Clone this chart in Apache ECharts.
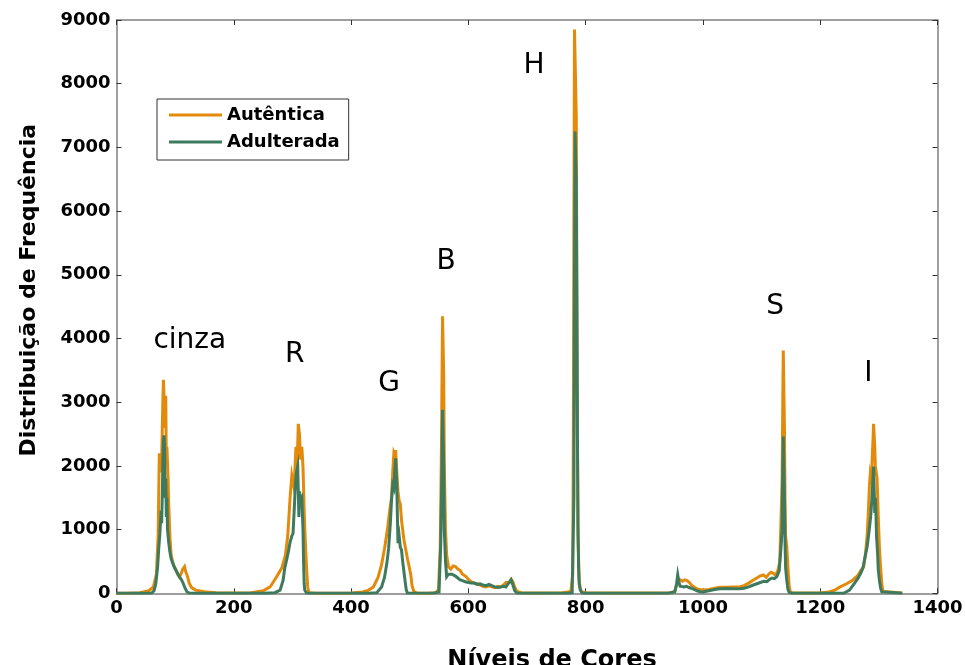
<!DOCTYPE html>
<html>
<head>
<meta charset="utf-8">
<script src="https://cdn.jsdelivr.net/npm/echarts@6/dist/echarts.min.js"></script>
<style>
  html, body { margin: 0; padding: 0; background: #ffffff; }
  #chart { width: 965px; height: 665px; }
</style>
</head>
<body>
<div id="chart"></div>
<script>
// Colour-level histograms (gray, R, G, B, H, S, I channels laid end to end)
const seriesNames = ['Autêntica', 'Adulterada'];

// Autêntica: colour level / frequency
const autX = [0, 20, 40, 55, 63, 68, 71, 73, 75, 77, 79, 80, 82, 83, 84, 85, 86, 88, 89, 91, 93, 95, 98, 101, 104, 107, 110, 113, 116, 118, 121, 124, 128, 135, 150, 170, 200,
  230, 250, 262, 273, 282, 288, 292, 296, 299, 302, 304, 306, 308, 310, 312, 314, 316, 318, 320, 322, 324, 326, 328, 340,
  380, 400, 420, 430, 438, 446, 452, 457, 462, 466, 469, 471, 473, 475, 476, 478, 480, 482, 484, 486, 488, 490, 493, 496, 499, 502, 504, 507, 512,
  530, 545, 549, 552, 554, 556, 557, 558, 559, 561, 563, 566, 570, 574, 578, 582, 586, 590, 595, 600, 605, 610, 615, 620, 625, 630, 635, 640, 645, 650, 655, 660, 664, 667, 670, 673, 676, 679, 682, 686, 690, 700,
  740, 760, 770, 775, 778, 779, 780, 781, 782, 783, 784, 785, 786, 787, 789, 791, 794, 800,
  830, 880, 920, 945, 952, 955, 958, 961, 965, 969, 973, 977, 981, 985, 990, 995, 1000, 1010, 1020, 1029, 1040, 1050, 1063, 1070, 1078, 1086, 1092, 1097, 1103, 1108, 1112, 1116, 1120, 1124, 1128, 1131,
  1133, 1135, 1136, 1137, 1138, 1139, 1140, 1141, 1143, 1145, 1147, 1149, 1153,
  1200, 1215, 1225, 1234, 1245, 1256, 1264, 1270, 1274, 1277, 1280, 1282, 1284, 1285, 1287, 1289, 1290, 1291, 1292, 1293, 1294, 1295, 1297, 1299, 1301, 1303, 1305, 1307, 1310, 1340];
const autY = [0, 0, 10, 40, 100, 300, 900, 2200, 1900, 2100, 3000, 3350, 3350, 2600, 3100, 2000, 2300, 1780, 1400, 900, 620, 520, 430, 380, 300, 260, 300, 380, 420, 340, 270, 160, 90, 50, 25, 10, 5,
  10, 40, 100, 260, 400, 600, 900, 1500, 1850, 1700, 1900, 2300, 2000, 2660, 2500, 2100, 2300, 1990, 1300, 800, 420, 100, 10, 0,
  0, 5, 20, 50, 100, 250, 450, 700, 1000, 1310, 1500, 1900, 2200, 2150, 2250, 1900, 1600, 1450, 1400, 1150, 1000, 850, 700, 550, 420, 280, 120, 30, 5,
  0, 10, 60, 700, 2200, 4350, 4350, 3400, 2000, 1000, 600, 420, 380, 430, 420, 380, 360, 300, 270, 220, 180, 160, 150, 130, 110, 100, 120, 100, 90, 110, 100, 130, 170, 190, 170, 220, 180, 100, 40, 20, 10, 5,
  5, 10, 20, 40, 300, 2500, 6000, 8850, 8850, 8850, 7500, 5000, 2500, 900, 200, 60, 20, 10,
  5, 5, 5, 10, 30, 120, 230, 200, 190, 210, 200, 170, 120, 100, 70, 60, 52, 60, 80, 94, 95, 100, 104, 120, 160, 209, 240, 270, 288, 250, 300, 330, 314, 280, 366, 500,
  1100, 1780, 2800, 3810, 3810, 2600, 1500, 900, 730, 400, 120, 20, 5,
  5, 20, 50, 100, 150, 210, 280, 370, 420, 600, 900, 1260, 1700, 1830, 1700, 2200, 2400, 2660, 2660, 2300, 2000, 1990, 1800, 1200, 700, 400, 150, 30, 10, 5];

// Adulterada: colour level / frequency
const adX = [0, 40, 60, 64, 67, 70, 72, 74, 76, 77, 78, 79, 80, 81, 82, 83, 84, 85, 86, 87, 89, 91, 93, 96, 99, 102, 105, 108, 111, 114, 117, 120, 124, 140,
  250, 270, 279, 284, 287, 290, 293, 296, 299, 301, 303, 305, 307, 309, 310, 311, 312, 314, 316, 318, 319, 320, 321, 324, 340,
  430, 444, 452, 457, 461, 464, 467, 469, 471, 473, 475, 476, 477, 478, 479, 480, 482, 484, 486, 488, 490, 492, 494, 496,
  540, 550, 553, 555, 556, 557, 558, 559, 561, 563, 566, 569, 572, 575, 578, 582, 586, 590, 595, 600, 605, 610, 615, 620, 625, 630, 635, 640, 645, 650, 655, 660, 664, 667, 670, 673, 676, 679, 683, 700,
  770, 777, 780, 781, 782, 783, 784, 785, 786, 787, 788, 789, 791, 794, 800,
  940, 952, 955, 957, 959, 961, 964, 968, 972, 976, 980, 985, 990, 995, 1000, 1010, 1020, 1029, 1040, 1050, 1063, 1070, 1078, 1086, 1092, 1098, 1104, 1109, 1114, 1118, 1122, 1126, 1130,
  1133, 1135, 1136, 1137, 1138, 1139, 1140, 1141, 1143, 1145, 1147, 1151,
  1240, 1250, 1258, 1264, 1269, 1273, 1276, 1280, 1283, 1286, 1288, 1290, 1291, 1292, 1293, 1294, 1295, 1296, 1298, 1299, 1301, 1303, 1305, 1308, 1340];
const adY = [0, 0, 5, 40, 150, 400, 700, 940, 1300, 1100, 1500, 2000, 2400, 2480, 2300, 1500, 1800, 1200, 1500, 1000, 800, 650, 550, 470, 400, 350, 300, 250, 210, 150, 80, 25, 5, 0,
  0, 10, 50, 200, 400, 520, 650, 800, 900, 940, 1300, 1700, 1900, 1990, 1990, 1200, 1600, 1465, 1500, 1000, 500, 150, 50, 5, 0,
  0, 10, 100, 250, 470, 700, 1100, 1465, 1700, 1650, 2000, 2120, 2150, 1700, 1200, 785, 900, 720, 680, 500, 350, 200, 60, 5,
  0, 20, 800, 2000, 2880, 2880, 2000, 1000, 500, 260, 300, 330, 300, 280, 270, 240, 210, 200, 180, 170, 160, 160, 140, 150, 130, 120, 140, 120, 100, 90, 100, 110, 100, 140, 160, 210, 130, 40, 5, 0,
  0, 10, 1500, 5000, 7250, 7250, 6500, 4500, 2500, 1000, 400, 150, 50, 5, 0,
  0, 20, 150, 290, 180, 110, 120, 100, 110, 90, 80, 60, 40, 25, 20, 40, 60, 70, 75, 70, 70, 80, 100, 130, 150, 170, 190, 183, 220, 240, 230, 261, 350,
  700, 990, 1800, 2460, 2460, 1500, 800, 400, 200, 60, 15, 0,
  0, 50, 150, 230, 314, 400, 550, 730, 950, 1200, 1465, 1800, 1990, 1990, 1260, 1500, 1260, 900, 600, 366, 200, 80, 25, 5, 0];

// Channel names written above each group of peaks
const channelNames = ['cinza', 'R', 'G', 'B', 'H', 'S', 'I'];
const channelAnchors = [[125, 3960], [304, 3745], [465, 3290], [562, 5205], [712, 8285], [1123, 4500], [1282, 3445]];

const zip = (xs, ys) => xs.map((x, i) => [x, ys[i]]);

const FONT = 'DejaVu Sans';
const axisGray = '#7f7f7f';
const plainNumber = v => String(v);

const chart = echarts.init(document.getElementById('chart'), null, { renderer: 'canvas' });

const option = {
  animation: false,
  backgroundColor: '#ffffff',
  grid: { left: 116.5, right: 27.5, top: 20, bottom: 71.7, containLabel: false, outerBoundsMode: 'none' },
  legend: {
    orient: 'vertical',
    left: 157,
    top: 99,
    data: seriesNames,
    icon: 'rect',
    itemWidth: 53,
    itemHeight: 3,
    itemGap: 7,
    padding: [6, 9, 8, 12],
    backgroundColor: '#ffffff',
    borderColor: '#333333',
    borderWidth: 1,
    borderRadius: 0,
    textStyle: { fontFamily: FONT, fontWeight: 'bold', fontSize: 18, color: '#000000', lineHeight: 20 }
  },
  xAxis: [
    {
      type: 'value', position: 'bottom', min: 0, max: 1400, interval: 200,
      name: 'Níveis de Cores', nameLocation: 'middle', nameGap: 55,
      nameTextStyle: { fontFamily: FONT, fontWeight: 'bold', fontSize: 24, color: '#000000', padding: [0, 0, 0, 50] },
      axisLine: { show: true, onZero: false, lineStyle: { color: axisGray, width: 1.5 } },
      axisTick: { show: true, inside: true, length: 5, lineStyle: { color: '#333333' } },
      axisLabel: { fontFamily: FONT, fontWeight: 'bold', fontSize: 18, color: '#000000', margin: 6, formatter: plainNumber },
      splitLine: { show: false }
    },
    {
      type: 'value', position: 'top', min: 0, max: 1400, interval: 200,
      axisLine: { show: true, onZero: false, lineStyle: { color: axisGray, width: 1.5 } },
      axisTick: { show: true, inside: true, length: 5, lineStyle: { color: '#333333' } },
      axisLabel: { show: false },
      splitLine: { show: false }
    }
  ],
  yAxis: [
    {
      type: 'value', position: 'left', min: 0, max: 9000, interval: 1000,
      name: 'Distribuição de Frequência', nameLocation: 'middle', nameGap: 76, nameRotate: 90,
      nameTextStyle: { fontFamily: FONT, fontWeight: 'bold', fontSize: 22, color: '#000000', padding: [0, 0, 0, 33] },
      axisLine: { show: true, onZero: false, lineStyle: { color: axisGray, width: 1.5 } },
      axisTick: { show: true, inside: true, length: 5, lineStyle: { color: '#333333' } },
      axisLabel: { fontFamily: FONT, fontWeight: 'bold', fontSize: 18, color: '#000000', margin: 6, formatter: plainNumber },
      splitLine: { show: false }
    },
    {
      type: 'value', position: 'right', min: 0, max: 9000, interval: 1000,
      axisLine: { show: true, onZero: false, lineStyle: { color: axisGray, width: 1.5 } },
      axisTick: { show: true, inside: true, length: 5, lineStyle: { color: '#333333' } },
      axisLabel: { show: false },
      splitLine: { show: false }
    }
  ],
  series: [
    {
      name: seriesNames[0],
      type: 'line',
      xAxisIndex: 0, yAxisIndex: 0,
      data: zip(autX, autY),
      showSymbol: false,
      symbol: 'none',
      color: '#E38A0A',
      lineStyle: { width: 3, color: '#E38A0A', join: 'miter' },
      z: 2,
      markPoint: {
        symbol: 'circle',
        symbolSize: 0,
        silent: true,
        label: {
          show: true, position: 'inside', color: '#000000',
          fontFamily: FONT, fontSize: 28, formatter: p => p.name
        },
        data: channelNames.map((n, i) => ({ name: n, coord: channelAnchors[i] }))
      }
    },
    {
      name: seriesNames[1],
      type: 'line',
      xAxisIndex: 0, yAxisIndex: 0,
      data: zip(adX, adY),
      showSymbol: false,
      symbol: 'none',
      color: '#3E7A5E',
      lineStyle: { width: 3, color: '#3E7A5E', join: 'miter' },
      z: 3
    }
  ]
};

chart.setOption(option);
</script>
</body>
</html>
